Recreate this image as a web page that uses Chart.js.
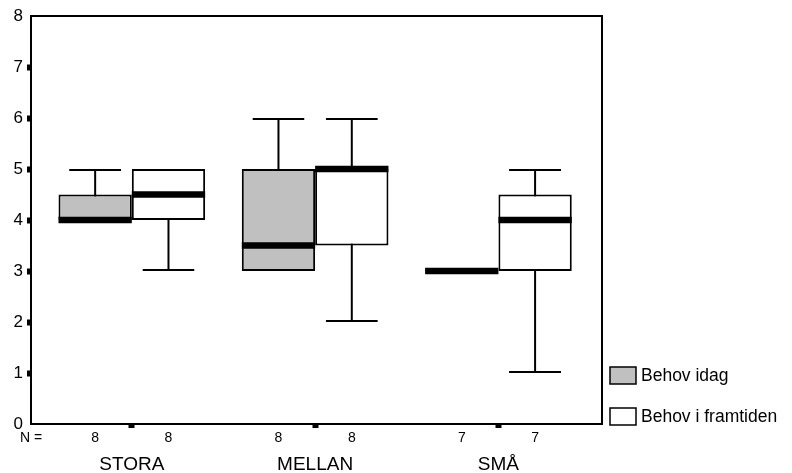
<!DOCTYPE html>
<html>
<head>
<meta charset="utf-8">
<script src="https://cdn.jsdelivr.net/npm/chart.js@4.4.1/dist/chart.umd.min.js"></script>
<style>
  html, body { margin: 0; padding: 0; background: #fff; }
  #wrap { width: 792px; height: 473px; }
</style>
</head>
<body>
<div id="wrap"><canvas id="myChart"></canvas></div>
<script>
const categories = ['STORA', 'MELLAN', 'SMÅ'];
const seriesNames = ['Behov idag', 'Behov i framtiden'];

// box plot summaries, one value per category
const todayMin = [4, 3, 3];
const todayQ1 = [4, 3, 3];
const todayMedian = [4, 3.5, 3];
const todayQ3 = [4.5, 5, 3];
const todayMax = [5, 6, 3];

const futureMin = [3, 2, 1];
const futureQ1 = [4, 3.5, 3];
const futureMedian = [4.5, 5, 4];
const futureQ3 = [5, 5, 4.5];
const futureMax = [5, 6, 5];

const todayN = [8, 8, 7];
const futureN = [8, 8, 7];

const yTicks = [0, 1, 2, 3, 4, 5, 6, 7, 8];

// layout / style constants
const X_MIN = 0.45, X_MAX = 3.565;
const SHIFT = 0.2;          // each box sits this far left/right of the category centre
const MEDIAN_HALF = 0.065;  // half thickness of median band, in y units
const GREY = '#c0c0c0';

const pos = categories.map((c, i) => i + 1);
const todayX = pos.map(p => p - SHIFT);
const futureX = pos.map(p => p + SHIFT);

function spans(xs, lo, hi) {
    return xs.map((x, i) => ({ x: x, y: [lo[i], hi[i]] }));
}
function medianBand(xs, med) {
    return xs.map((x, i) => ({ x: x, y: [med[i] - MEDIAN_HALF, med[i] + MEDIAN_HALF] }));
}

// ticks for the "N =" row: one under each box
const countTicks = [X_MIN];
const countLabels = ['N ='];
pos.forEach((p, i) => {
    countTicks.push(todayX[i], futureX[i]);
    countLabels.push(String(todayN[i]), String(futureN[i]));
});

function fixedTicks(values) {
    return function (scale) { scale.ticks = values.map(v => ({ value: v })); };
}

const common = { xAxisID: 'x', grouped: false, categoryPercentage: 1, inflateAmount: 0, borderSkipped: false };

const datasets = [
    // boxes
    Object.assign({ label: seriesNames[0], data: spans(todayX, todayQ1, todayQ3),
        backgroundColor: GREY, borderColor: '#000', borderWidth: 2, barPercentage: 1, order: 2 }, common),
    Object.assign({ label: seriesNames[1], data: spans(futureX, futureQ1, futureQ3),
        backgroundColor: '#ffffff', borderColor: '#000', borderWidth: 2, barPercentage: 1, order: 2 }, common),
    // medians
    Object.assign({ data: medianBand(todayX, todayMedian),
        backgroundColor: '#000', borderWidth: 0, barPercentage: 1, order: 1 }, common),
    Object.assign({ data: medianBand(futureX, futureMedian),
        backgroundColor: '#000', borderWidth: 0, barPercentage: 1, order: 1 }, common),
    // whisker caps
    Object.assign({ data: spans(todayX, todayMin, todayMax), backgroundColor: 'rgba(0,0,0,0)',
        borderColor: '#000', borderWidth: { top: 2, bottom: 2, left: 0, right: 0 }, barPercentage: 0.71, order: 3 }, common),
    Object.assign({ data: spans(futureX, futureMin, futureMax), backgroundColor: 'rgba(0,0,0,0)',
        borderColor: '#000', borderWidth: { top: 2, bottom: 2, left: 0, right: 0 }, barPercentage: 0.71, order: 3 }, common),
    // whisker stems
    Object.assign({ data: spans(todayX, todayMin, todayMax), backgroundColor: '#000',
        borderWidth: 0, barPercentage: 1, maxBarThickness: 2, order: 4 }, common),
    Object.assign({ data: spans(futureX, futureMin, futureMax), backgroundColor: '#000',
        borderWidth: 0, barPercentage: 1, maxBarThickness: 2, order: 4 }, common)
];

const framePlugin = {
    id: 'frame',
    afterDatasetsDraw(chart) {
        const { ctx, chartArea: a } = chart;
        ctx.save();
        ctx.strokeStyle = '#000';
        ctx.lineWidth = 2;
        ctx.strokeRect(a.left, a.top, a.right - a.left, a.bottom - a.top);
        ctx.restore();
    }
};

const sideLegend = {
    id: 'sideLegend',
    afterDraw(chart) {
        const { ctx, chartArea: a } = chart;
        const items = chart.data.datasets.filter(d => d.label);
        const rowTops = [a.bottom - 57, a.bottom - 16];
        ctx.save();
        ctx.font = '17.5px "Liberation Sans", Arial, sans-serif';
        ctx.textBaseline = 'middle';
        items.forEach((d, i) => {
            const bx = a.right + 8, by = rowTops[i];
            ctx.fillStyle = d.backgroundColor;
            ctx.fillRect(bx, by, 26, 17);
            ctx.strokeStyle = '#000';
            ctx.lineWidth = 1.5;
            ctx.strokeRect(bx, by, 26, 17);
            ctx.fillStyle = '#000';
            ctx.fillText(d.label, bx + 31, by + 9.5);
        });
        ctx.restore();
    }
};

function xAxis(extra) {
    return Object.assign({
        type: 'linear', axis: 'x', position: 'bottom',
        min: X_MIN, max: X_MAX, offset: false,
        border: { display: false }
    }, extra);
}

function myLoadFunction() {
    Chart.defaults.font.family = '"Liberation Sans", Arial, sans-serif';
    Chart.defaults.color = '#000';
    const ctx = document.getElementById('myChart').getContext('2d');
    const myChart = new Chart(ctx, {
        type: 'bar',
        data: { datasets: datasets },
        options: {
            responsive: true,
            maintainAspectRatio: false,
            animation: false,
            events: [],
            layout: { padding: { top: 16, right: 190, bottom: 0, left: 0 } },
            plugins: { legend: { display: false }, tooltip: { enabled: false } },
            scales: {
                x: xAxis({
                    weight: 0,
                    afterBuildTicks: fixedTicks(pos),
                    ticks: { display: false },
                    grid: { offset: false, drawOnChartArea: false, drawTicks: true, tickLength: 4, tickWidth: 6, tickColor: '#000' },
                    afterFit: s => { s.height = 4; }
                }),
                xn: xAxis({
                    weight: 1,
                    afterBuildTicks: fixedTicks(countTicks),
                    ticks: { autoSkip: false, maxRotation: 0, padding: 2, font: { size: 14 },
                        callback: (v, i) => countLabels[i] },
                    grid: { display: false, offset: false, drawTicks: false },
                    afterFit: s => { s.height = 18; }
                }),
                xcat: xAxis({
                    weight: 2,
                    afterBuildTicks: fixedTicks(pos),
                    ticks: { autoSkip: false, maxRotation: 0, padding: 7, font: { size: 19 },
                        callback: (v, i) => categories[i] },
                    grid: { display: false, offset: false, drawTicks: false },
                    afterFit: s => { s.height = 27; }
                }),
                y: {
                    min: 0, max: 8,
                    afterBuildTicks: fixedTicks(yTicks),
                    ticks: { padding: 4, font: { size: 17 } },
                    grid: {
                        drawOnChartArea: false, tickLength: 4, tickWidth: 6,
                        tickColor: c => (c.tick && (c.tick.value === 0 || c.tick.value === 8)) ? 'rgba(0,0,0,0)' : '#000'
                    },
                    border: { display: false },
                    afterFit: s => { s.width = 31; }
                }
            }
        },
        plugins: [framePlugin, sideLegend]
    });
}

document.addEventListener('DOMContentLoaded', myLoadFunction);
</script>
</body>
</html>
